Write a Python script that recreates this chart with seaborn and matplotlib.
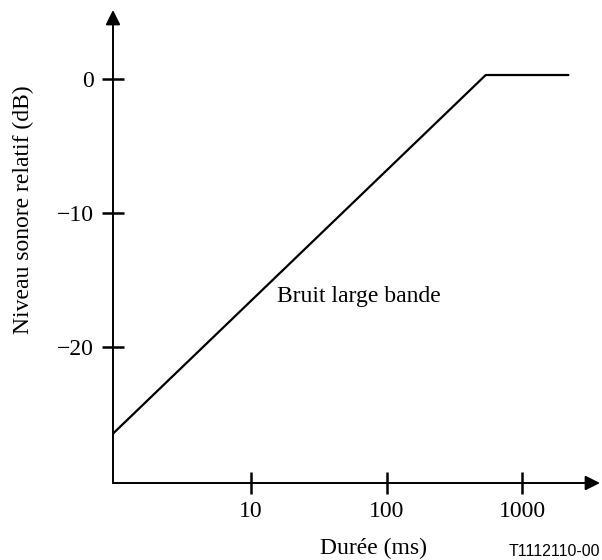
import matplotlib
matplotlib.use("Agg")
import matplotlib.pyplot as plt
from matplotlib.ticker import FixedLocator, FixedFormatter, NullLocator
import seaborn as sns
import pandas as pd

# Relative loudness vs. duration for broadband noise
duration_ms = [0.96, 540, 2200]
level_db = [-26.5, 0.3, 0.3]

x_ticks = [10, 100, 1000]
x_tick_labels = ["10", "100", "1000"]
y_ticks = [0, -10, -20]
y_tick_labels = ["0", "\u221210", "\u221220"]

curve_label = "Bruit large bande"
x_title = "Durée (ms)"
y_title = "Niveau sonore relatif (dB)"
ref_code = "T1112110-00"

sns.set_theme(style="white")
plt.rcParams["font.family"] = ["Liberation Serif", "DejaVu Serif"]
plt.rcParams["axes.unicode_minus"] = True

fig = plt.figure(figsize=(6.02, 5.60), dpi=100)
ax = fig.add_axes([113 / 602, 77 / 560, 487 / 602, 473 / 560])
ax.set_xscale("log")

df = pd.DataFrame({"duration": duration_ms, "level": level_db})
sns.lineplot(data=df, x="duration", y="level", ax=ax, color="black",
             linewidth=1.6, sort=True, estimator=None)

ax.set_xlim(0.958, 3764)
ax.set_ylim(-30.2, 5.16)

for side in ["top", "right", "left", "bottom"]:
    ax.spines[side].set_visible(False)

# axis lines with arrow heads
arrow = dict(arrowstyle="-|>", color="black", lw=1.4, mutation_scale=22,
             shrinkA=0, shrinkB=0)
ax.annotate("", xy=(1, 0), xytext=(0, 0), xycoords="axes fraction",
            textcoords="axes fraction", arrowprops=arrow, annotation_clip=False)
ax.annotate("", xy=(0, 1), xytext=(0, 0), xycoords="axes fraction",
            textcoords="axes fraction", arrowprops=arrow, annotation_clip=False)

ax.xaxis.set_major_locator(FixedLocator(x_ticks))
ax.xaxis.set_major_formatter(FixedFormatter(x_tick_labels))
ax.xaxis.set_minor_locator(NullLocator())
ax.yaxis.set_major_locator(FixedLocator(y_ticks))
ax.yaxis.set_major_formatter(FixedFormatter(y_tick_labels))
ax.yaxis.set_minor_locator(NullLocator())

ax.tick_params(axis="both", which="major", direction="inout", length=16,
               width=1.8, color="black", labelsize=17, labelcolor="black",
               bottom=True, left=True)
ax.tick_params(axis="x", pad=5)
ax.tick_params(axis="y", pad=6)

ax.set_xlabel(x_title, fontsize=17, color="black")
ax.set_ylabel(y_title, fontsize=17, color="black")
ax.xaxis.label.set_va("center")
ax.yaxis.label.set_va("center")
ax.xaxis.set_label_coords((374 - 113) / 487, (483 - 548) / 473)
ax.yaxis.set_label_coords((23 - 113) / 487, (483 - 210) / 473)

ax.text(15.5, -16.7, curve_label, fontsize=17, color="black",
        ha="left", va="baseline")

fig.text(509 / 602, 1 - 551 / 560, ref_code, fontsize=11.5, color="black",
         family=["Liberation Sans", "DejaVu Sans"], ha="left", va="center")

fig.savefig("out.png", dpi=100, facecolor="white")
